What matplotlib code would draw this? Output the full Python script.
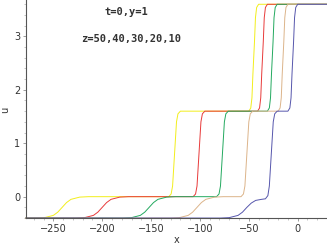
import matplotlib

matplotlib.use("Agg")
import matplotlib.pyplot as plt
from matplotlib.ticker import MultipleLocator

# u(x) for t=0, y=1 and z = 50, 40, 30, 20, 10
x_z50 = [-278, -268, -259, -250, -245.5, -241, -236.5, -232, -223, -214,
         -132, -129.5, -128, -127, -126, -125, -124, -122.5, -120,
         -50, -48, -46.8, -45.8, -45, -44.2, -43.2, -42, -40, 30]
u_z50 = [-0.4, -0.4, -0.392, -0.35, -0.29, -0.2, -0.11, -0.05, -0.008, 0.0,
         0.0, 0.05, 0.2, 0.5, 0.8, 1.1, 1.4, 1.55, 1.6,
         1.6, 1.66, 1.85, 2.3, 2.6, 2.9, 3.35, 3.54, 3.6, 3.6]

x_z40 = [-278, -227, -218, -209, -204.5, -200, -195.5, -191, -182, -173,
         -107, -104.5, -103, -102, -101, -100, -99, -97.5, -95,
         -41, -39, -37.8, -36.8, -36, -35.2, -34.2, -33, -31, 30]
u_z40 = u_z50

x_z30 = [-278, -179, -170, -161, -156.5, -152, -147.5, -143, -134, -125,
         -83, -80.5, -79, -78, -77, -76, -75, -73.5, -71,
         -31, -29, -27.8, -26.8, -26, -25.2, -24.2, -23, -21, 30]
u_z30 = u_z50

x_z20 = [-278, -130, -121, -112, -107.5, -103, -98.5, -94, -85, -76,
         -58, -55.5, -54, -53, -52, -51, -50, -48.5, -46,
         -20, -18, -16.8, -15.8, -15, -14.2, -13.2, -12, -10, 30]
u_z20 = u_z50

x_z10 = [-278, -79, -70, -61, -56.5, -52, -47.5, -43, -37, -33,
         -30.5, -29, -28, -27, -26, -25, -23.5, -21,
         -10, -8, -6.8, -5.8, -5, -4.2, -3.2, -2, 0, 30]
u_z10 = [-0.4, -0.4, -0.392, -0.35, -0.29, -0.2, -0.12, -0.07, -0.05, -0.04,
         0.02, 0.2, 0.5, 0.8, 1.1, 1.4, 1.55, 1.6,
         1.6, 1.66, 1.85, 2.3, 2.6, 2.9, 3.35, 3.54, 3.6, 3.6]

curves = [
    (x_z50, u_z50, "#f2ee1c"),
    (x_z40, u_z40, "#e83a3a"),
    (x_z30, u_z30, "#23a95f"),
    (x_z20, u_z20, "#dcb48a"),
    (x_z10, u_z10, "#5656ac"),
]

fig = plt.figure(figsize=(3.27, 2.45), dpi=100)
ax = fig.add_axes([0.0795, 0.11, 0.9205, 0.89])

for xs, us, col in curves:
    ax.plot(xs, us, color=col, linewidth=0.7, clip_on=False)

ax.set_xlim(-278, 30)
ax.set_ylim(-0.4, 3.68)

for side in ("top", "right"):
    ax.spines[side].set_visible(False)
for side in ("left", "bottom"):
    ax.spines[side].set_color("#555555")
    ax.spines[side].set_linewidth(0.8)

ax.set_xticks([-250, -200, -150, -100, -50, 0])
ax.set_yticks([0, 1, 2, 3])
ax.xaxis.set_minor_locator(MultipleLocator(10))
ax.yaxis.set_minor_locator(MultipleLocator(0.2))
ax.tick_params(which="major", length=2, width=0.5, color="#777777",
               labelsize=7, labelcolor="#333333", pad=2)
ax.tick_params(which="minor", length=1.2, width=0.4, color="#999999")

ax.set_xlabel("x", fontsize=7, color="#333333", labelpad=1)
# y label placed by hand so it stays inside the small canvas
fig.text(5.5 / 327, 1 - 110 / 245, "u", fontsize=7, color="#333333",
         rotation=90, ha="center", va="center")

ax.text(-175, 3.45, "t=0,y=1", fontsize=7.5, family="DejaVu Sans Mono",
        fontweight="bold", color="#333333", ha="center", va="center")
ax.text(-170, 2.95, "z=50,40,30,20,10", fontsize=7.5, family="DejaVu Sans Mono",
        fontweight="bold", color="#333333", ha="center", va="center")

fig.savefig("out.png", dpi=100)
